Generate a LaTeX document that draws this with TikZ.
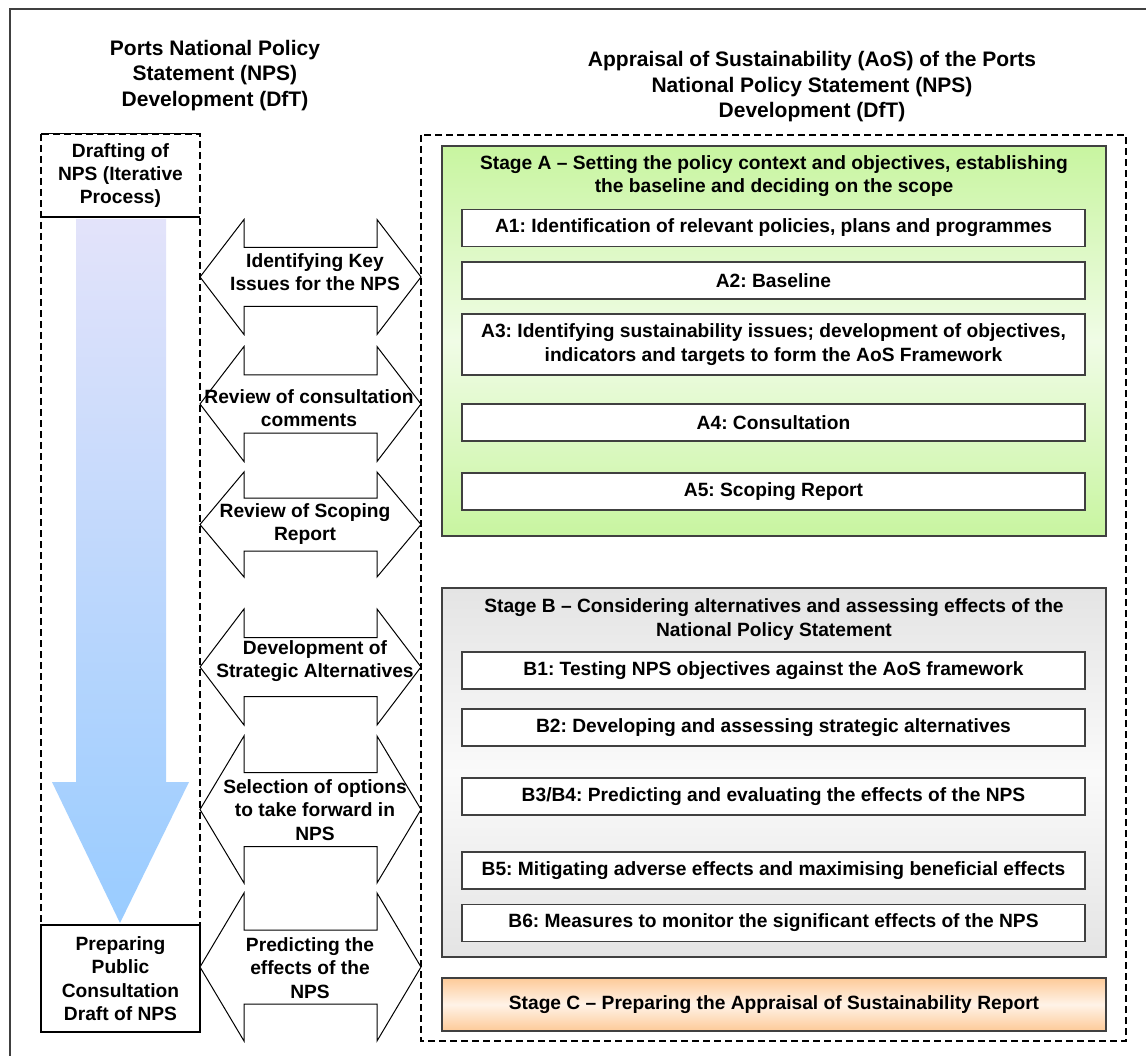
\documentclass[tikz,border=0pt]{standalone}
\usepackage{fontspec}
\setmainfont{Liberation Sans}
\frenchspacing
\definecolor{frameg}{HTML}{404040}
\definecolor{greenA}{HTML}{C8F5A0}
\definecolor{greenAm}{HTML}{F0FCE6}
\definecolor{greyB}{HTML}{E4E4E4}
\definecolor{greyBm}{HTML}{FAFAFA}
\definecolor{orangeC}{HTML}{FDCA98}
\definecolor{orangeCm}{HTML}{FFF3E8}
\definecolor{lilac}{HTML}{E3E3FA}
\definecolor{skyblue}{HTML}{99CCFF}
% double arrow between the two columns: mid y, half head, half shaft
\newcommand{\twoway}[3]{%
\draw[twowayline] (200,#1) -- (244,#1-#2) -- (244,#1-#3) -- (377,#1-#3) -- (377,#1-#2) -- (421,#1)
  -- (377,#1+#2) -- (377,#1+#3) -- (244,#1+#3) -- (244,#1+#2) -- cycle;}
\begin{document}
\begin{tikzpicture}[x=1pt,y=-1pt,line join=miter,
  txt/.style={font=\bfseries\fontsize{19.2}{23.3}\selectfont,align=center,inner sep=0pt},
  headtxt/.style={font=\bfseries\fontsize{21}{25.5}\selectfont,align=center,inner sep=0pt},
  stagebox/.style={draw=frameg,line width=1.4pt,minimum width=664pt,inner sep=0pt},
  itembox/.style={draw=frameg,line width=1.4pt,fill=white,minimum width=623pt,minimum height=37pt,inner sep=0pt,
    font=\bfseries\fontsize{19.2}{23.3}\selectfont,align=center},
  leftbox/.style={minimum width=159pt,inner sep=0pt,font=\bfseries\fontsize{19.2}{23.3}\selectfont,align=center},
  twowayline/.style={draw=black,line width=1pt,fill=white},
  dashline/.style={line width=1.6pt,dash pattern=on 7pt off 4pt}]
\useasboundingbox (0,0) rectangle (1146,1056);
\fill[white] (0,0) rectangle (1146,1056);
\draw[frameg,line width=1.5pt] (10,1056) -- (10,9) -- (1146,9);

% headings
\node[headtxt] (lefthead) at (215,75.5) {Ports National Policy\\Statement (NPS)\\Development (DfT)};
\node[headtxt] (righthead) at (812,87) {Appraisal of Sustainability (AoS) of the Ports\\National Policy Statement (NPS)\\Development (DfT)};

% left column
\draw[dashline] (41,134) rectangle (200,925);
\path[top color=lilac,bottom color=skyblue] (76,219) -- (166,219) -- (166,782) -- (189,782) -- (120,923) -- (52,782) -- (76,782) -- cycle;
\node[leftbox,minimum height=83pt] (draft) at (120.5,175.5) {Drafting of\\NPS (Iterative\\Process)};
\draw[line width=1.4pt] (draft.north west) -- (draft.north east);
\draw[line width=1.4pt] (draft.south west) -- (draft.south east);
\node[leftbox,draw,line width=1.4pt,fill=white,minimum height=107pt] (prep) at (120.5,978.5) {Preparing\\Public\\Consultation\\Draft of NPS};

% arrows between the columns
\twoway{277}{57.5}{29.5}
\twoway{404}{57.5}{29}
\twoway{524.5}{52.5}{26.5}
\twoway{667}{58}{29.5}
\twoway{809.5}{73.5}{37}
\twoway{967}{74}{37}
\node[txt] (keyissues) at (315,272) {Identifying Key\\Issues for the NPS};
\node[txt] (reviewcons) at (309,408) {Review of consultation\\comments};
\node[txt] (reviewscop) at (305,524) {Review of Scoping\\Report};
\node[txt] (devalt) at (315,661) {Development of\\Strategic Alternatives};
\node[txt] (selopt) at (315,810) {Selection of options\\to take forward in\\NPS};
\node[txt] (predeff) at (310,968) {Predicting the\\effects of the\\NPS};

% right column
\draw[dashline] (421,135) rectangle (1126,1041);

\node[stagebox,minimum height=390pt,top color=greenA,bottom color=greenA,middle color=greenAm] (stageA) at (774,341) {};
\node[txt] (stageAhead) at (774,176) {Stage A -- Setting the policy context and objectives, establishing\\the baseline and deciding on the scope};
\node[itembox] (A1) at (773.5,228) {A1: Identification of relevant policies, plans and programmes};
\node[itembox] (A2) at (773.5,280.5) {A2: Baseline};
\node[itembox,minimum height=61pt] (A3) at (773.5,344.5) {A3: Identifying sustainability issues; development of objectives,\\indicators and targets to form the AoS Framework};
\node[itembox] (A4) at (773.5,422.5) {A4: Consultation};
\node[itembox] (A5) at (773.5,491.5) {A5: Scoping Report};

\node[stagebox,minimum height=369pt,top color=greyB,bottom color=greyB,middle color=greyBm] (stageB) at (774,772.5) {};
\node[txt] (stageBhead) at (774,619.5) {Stage B -- Considering alternatives and assessing effects of the\\National Policy Statement};
\node[itembox] (B1) at (773.5,670.5) {B1: Testing NPS objectives against the AoS framework};
\node[itembox] (B2) at (773.5,727.5) {B2: Developing and assessing strategic alternatives};
\node[itembox] (B3) at (773.5,796.5) {B3/B4: Predicting and evaluating the effects of the NPS};
\node[itembox] (B5) at (773.5,870.5) {B5: Mitigating adverse effects and maximising beneficial effects};
\node[itembox] (B6) at (773.5,923) {B6: Measures to monitor the significant effects of the NPS};

\node[stagebox,minimum height=53pt,top color=orangeC,bottom color=orangeC,middle color=orangeCm,
  font=\bfseries\fontsize{19.2}{23.3}\selectfont] (stageC) at (774,1004.5) {Stage C -- Preparing the Appraisal of Sustainability Report};
\end{tikzpicture}
\end{document}
